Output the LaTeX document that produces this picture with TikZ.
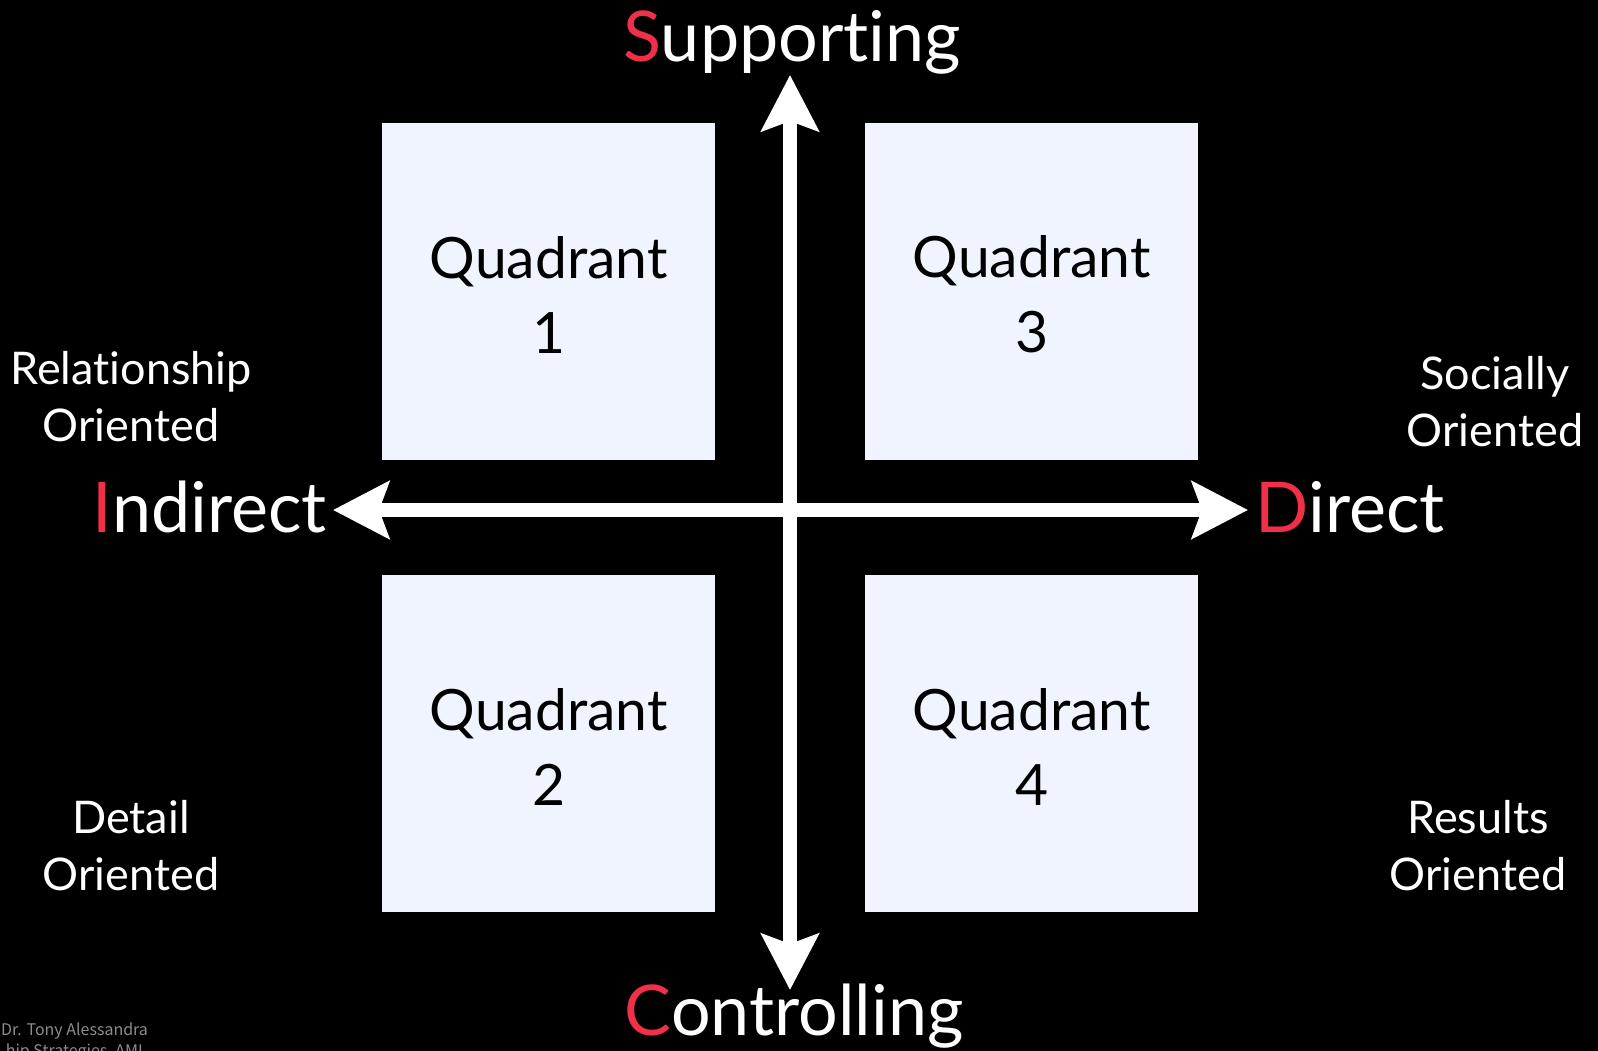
\documentclass[tikz,border=0pt]{standalone}
\usepackage{fontspec}
\setmainfont{Lato}[Ligatures=NoCommon]
\newfontfamily\footfont{Noto Sans CJK JP}
\usetikzlibrary{arrows.meta}
\definecolor{boxfill}{RGB}{239,244,255}
\definecolor{accent}{RGB}{240,48,72}
\definecolor{footgray}{RGB}{140,140,140}
\begin{document}
\begin{tikzpicture}[x=1pt,y=-1pt,
 quad/.style={draw=none,fill=boxfill,minimum width=333pt,minimum height=337pt,inner sep=0pt,anchor=north west},
 qlabel/.style={font=\fontsize{57}{75}\selectfont,align=center,text=black,inner sep=0pt},
 axislabel/.style={font=\fontsize{70}{74}\selectfont,text=white,inner sep=0pt},
 sidelabel/.style={font=\fontsize{45}{57}\selectfont,text=white,align=center,inner sep=0pt},
 axisarrow/.style={draw=white,line width=14pt,{Stealth[length=56pt,width=57pt,inset=10pt]}-{Stealth[length=56pt,width=57pt,inset=10pt]}},
 footnote/.style={font=\footfont\fontsize{16}{20}\selectfont,text=footgray,inner sep=0pt}
]
\fill[black] (0,0) rectangle (1598,1051);
\useasboundingbox (0,0) rectangle (1598,1051);

% quadrant boxes
\node[quad] (q1) at (382,123) {};
\node[quad] (q3) at (865,123) {};
\node[quad] (q2) at (382,575) {};
\node[quad] (q4) at (865,575) {};
\node[qlabel] (q1t) at ([yshift=-3pt]q1.center) {Quadrant\\1};
\node[qlabel] (q3t) at ([yshift=-3pt]q3.center) {Quadrant\\3};
\node[qlabel] (q2t) at ([yshift=-3pt]q2.center) {Quadrant\\2};
\node[qlabel] (q4t) at ([yshift=-3pt]q4.center) {Quadrant\\4};

% axes
\coordinate (top) at (790,75);
\coordinate (bottom) at (790,990);
\coordinate (left) at (333,510);
\coordinate (right) at (1248,510);
\draw[axisarrow] (left) -- (right);
\draw[axisarrow] (bottom) -- (top);

% axis labels
\node[axislabel,anchor=base] (sup) at (792,62) {\textcolor{accent}{S}upporting};
\node[axislabel,anchor=base] (con) at (794,1035) {\textcolor{accent}{C}ontrolling};
\node[axislabel,anchor=base east] (ind) at (327,532) {\textcolor{accent}{I}ndirect};
\node[axislabel,anchor=base west] (dir) at (1255,532) {\textcolor{accent}{D}irect};

% side labels
\node[sidelabel] (rel) at (131,397) {Relationship\\Oriented};
\node[sidelabel] (soc) at (1495,402) {Socially\\Oriented};
\node[sidelabel] (det) at (131,846) {Detail\\Oriented};
\node[sidelabel] (res) at (1478,846) {Results\\Oriented};

% footer
\node[footnote,anchor=base west] (foot1) at (1,1035) {Dr. Tony Alessandra};
\node[footnote,anchor=base east] (foot2) at (143,1056) {hip Strategies, AMI};
\end{tikzpicture}
\end{document}
